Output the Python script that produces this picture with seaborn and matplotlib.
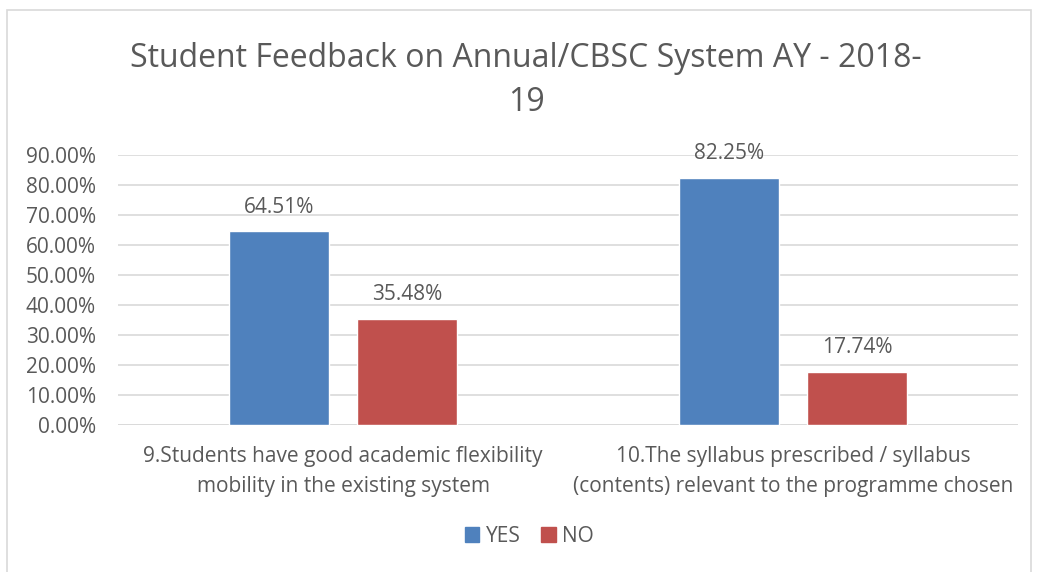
import pandas as pd
import numpy as np
import seaborn as sns
import matplotlib.pyplot as plt
from matplotlib.patches import Rectangle

categories = ['9.Students have good academic flexibility\nmobility in the existing system',
              '10.The syllabus prescribed / syllabus\n(contents) relevant to the programme chosen']
yes_values = [0.6451, 0.8225]
no_values = [0.3548, 0.1774]
responses = ['YES', 'NO']

df = pd.DataFrame({
    'question': categories * 2,
    'response': ['YES'] * 2 + ['NO'] * 2,
    'value': yes_values + no_values,
})

sns.set_style('white')
plt.rcParams['font.family'] = ['Open Sans', 'DejaVu Sans']
grey = '#595959'

fig = plt.figure(figsize=(10.38, 5.72), dpi=100)
ax = fig.add_axes([0.1137, 0.257, 0.867, 0.472])

sns.barplot(data=df, x='question', y='value', hue='response', hue_order=responses,
            palette=['#4F81BD', '#C0504D'], width=0.569, gap=0.219, ax=ax,
            saturation=1, legend=False)

for container in ax.containers:
    ax.bar_label(container, labels=[f'{v * 100:.2f}%' for v in container.datavalues],
                 padding=10, fontsize=15, color=grey)

ax.set_ylim(0, 0.9)
ax.set_xlim(-0.5, 1.5)
yt = np.arange(0, 0.91, 0.1)
ax.set_yticks(yt)
ax.set_yticklabels([f'{t * 100:.2f}%' for t in yt], fontsize=15, color=grey)
ax.tick_params(axis='x', labelsize=15, labelcolor=grey, pad=15, length=0)
ax.tick_params(axis='y', length=0, pad=16)
for lbl in ax.get_xticklabels():
    lbl.set_linespacing(1.55)
ax.yaxis.grid(True, color='#D9D9D9', linewidth=1.2)
ax.set_axisbelow(True)
ax.set_xlabel('')
ax.set_ylabel('')
for s in ax.spines.values():
    s.set_visible(False)
ax.axhline(0, color='#D9D9D9', linewidth=1.2, zorder=0)

fig.text(0.507, 0.897, 'Student Feedback on Annual/CBSC System AY - 2018-',
         ha='center', va='center', fontsize=23, color=grey)
fig.text(0.507, 0.82, '19', ha='center', va='center', fontsize=23, color=grey)

handles = [Rectangle((0, 0), 1, 1, color=c) for c in ['#4F81BD', '#C0504D']]
fig.legend(handles, responses, loc='center', bbox_to_anchor=(0.51, 0.062), ncol=2,
           frameon=False, fontsize=15, labelcolor=grey, handlelength=0.7,
           handleheight=0.7, columnspacing=1.0, handletextpad=0.3)

fig.patches.append(Rectangle((0.007, -0.01), 0.986, 0.993, transform=fig.transFigure,
                             fill=False, edgecolor='#D9D9D9', linewidth=1.2))

fig.savefig('out.png', dpi=100)
